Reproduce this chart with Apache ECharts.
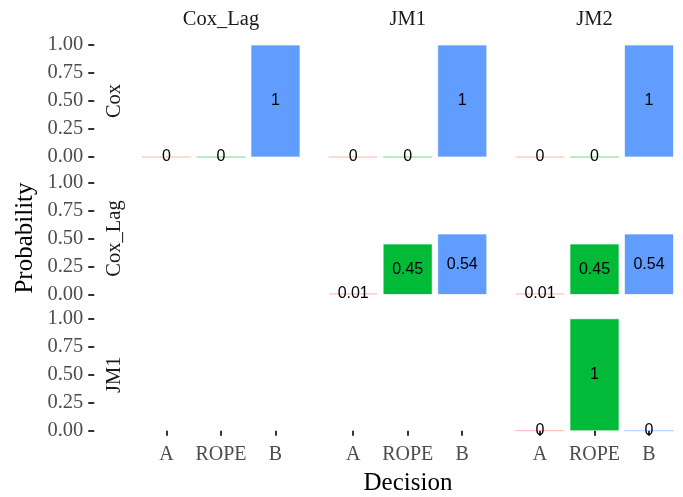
<!DOCTYPE html>
<html>
<head>
<meta charset="utf-8">
<title>Decision probabilities by model pair</title>
<script src="https://cdn.jsdelivr.net/npm/echarts@6/dist/echarts.min.js"></script>
<style>
  html, body { margin: 0; padding: 0; background: #ffffff; }
  #chart { width: 683px; height: 497px; }
</style>
</head>
<body>
<div id="chart"></div>
<script>
// Decision outcomes on the x axis of every panel
const decisions = ['A', 'ROPE', 'B'];
// Facet rows (left strips) and columns (top strips)
const rowModels = ['Cox', 'Cox_Lag', 'JM1'];
const colModels = ['Cox_Lag', 'JM1', 'JM2'];
// Probability tick values
const yTicks = [0, 0.25, 0.5, 0.75, 1];

// Probability of each decision (A, ROPE, B) for every model pair
const coxVsCoxLag = [0, 0, 1];
const coxVsJM1 = [0, 0, 1];
const coxVsJM2 = [0, 0, 1];
const coxLagVsJM1 = [0.01, 0.45, 0.54];
const coxLagVsJM2 = [0.01, 0.45, 0.54];
const jm1VsJM2 = [0, 1, 0];

// Panel contents, row by row (null = no comparison)
const panels = [
  [coxVsCoxLag, coxVsJM1, coxVsJM2],
  [null, coxLagVsJM1, coxLagVsJM2],
  [null, null, jm1VsJM2]
];

// Fill colours per decision
const fills = ['#F8766D', '#00BA38', '#619CFF'];
const edges = ['rgba(248,118,109,0.3)', 'rgba(0,186,56,0.3)', 'rgba(97,156,255,0.3)'];

// Layout of the facet grid
const band = 54.5;
const firstCenter = [166.5, 353.2, 540];
const rowTop = [45, 182.5, 318.7];
const rowHeight = 112;
const serif = '"Liberation Serif", "Times New Roman", serif';
const sans = '"Liberation Sans", Arial, sans-serif';

const grids = [], xAxes = [], yAxes = [], series = [];

for (let r = 0; r < rowModels.length; r++) {
  for (let c = 0; c < colModels.length; c++) {
    const idx = r * colModels.length + c;
    grids.push({
      left: firstCenter[c] - band / 2,
      top: rowTop[r],
      width: band * decisions.length,
      height: rowHeight,
      containLabel: false
    });
    const bottomRow = r === rowModels.length - 1;
    xAxes.push({
      gridIndex: idx,
      type: 'category',
      data: decisions,
      show: bottomRow,
      offset: 6,
      axisLine: { show: false },
      axisTick: { show: true, alignWithLabel: true, interval: 0, length: 5, lineStyle: { color: '#333333', width: 2 } },
      axisLabel: { interval: 0, color: '#4D4D4D', fontFamily: serif, fontSize: 20, margin: 8 },
      splitLine: { show: false }
    });
    yAxes.push({
      gridIndex: idx,
      type: 'value',
      min: yTicks[0],
      max: yTicks[yTicks.length - 1],
      interval: yTicks[1] - yTicks[0],
      show: c === 0,
      offset: 45,
      axisLine: { show: false },
      axisTick: { show: true, length: 6, lineStyle: { color: '#333333', width: 2 } },
      axisLabel: {
        color: '#4D4D4D', fontFamily: serif, fontSize: 20.5, margin: 11,
        formatter: v => v.toFixed(2)
      },
      splitLine: { show: false }
    });
    const values = panels[r][c];
    if (values) {
      series.push({
        type: 'bar',
        xAxisIndex: idx,
        yAxisIndex: idx,
        barWidth: '90%',
        clip: false,
        data: values.map((v, i) => ({
          value: v,
          itemStyle: { color: fills[i], borderColor: edges[i], borderWidth: 1 }
        })),
        label: {
          show: true,
          position: 'inside',
          color: '#000000',
          fontFamily: sans,
          fontSize: 16,
          formatter: p => String(p.value)
        },
        emphasis: { disabled: true },
        animation: false
      });
    }
  }
}

// Strip labels, axis titles
const graphics = [];
colModels.forEach((name, c) => {
  graphics.push({
    type: 'text',
    x: firstCenter[c] - band / 2 + band * decisions.length / 2,
    y: 20,
    style: { text: name, fontFamily: serif, fontSize: 20.5, fill: '#1A1A1A', align: 'center', verticalAlign: 'middle' }
  });
});
rowModels.forEach((name, r) => {
  graphics.push({
    type: 'text',
    x: 115,
    y: rowTop[r] + rowHeight / 2,
    rotation: Math.PI / 2,
    style: { text: name, fontFamily: serif, fontSize: 20.5, fill: '#1A1A1A', align: 'center', verticalAlign: 'middle' }
  });
});
graphics.push({
  type: 'text',
  x: 25.5,
  y: 238,
  rotation: Math.PI / 2,
  style: { text: 'Probability', fontFamily: serif, fontSize: 25, fill: '#000000', align: 'center', verticalAlign: 'middle' }
});
graphics.push({
  type: 'text',
  x: 408,
  y: 483,
  style: { text: 'Decision', fontFamily: serif, fontSize: 25, fill: '#000000', align: 'center', verticalAlign: 'middle' }
});

const chart = echarts.init(document.getElementById('chart'), null, { renderer: 'canvas' });
chart.setOption({
  backgroundColor: '#ffffff',
  animation: false,
  grid: grids,
  xAxis: xAxes,
  yAxis: yAxes,
  series: series,
  graphic: graphics
});
</script>
</body>
</html>
